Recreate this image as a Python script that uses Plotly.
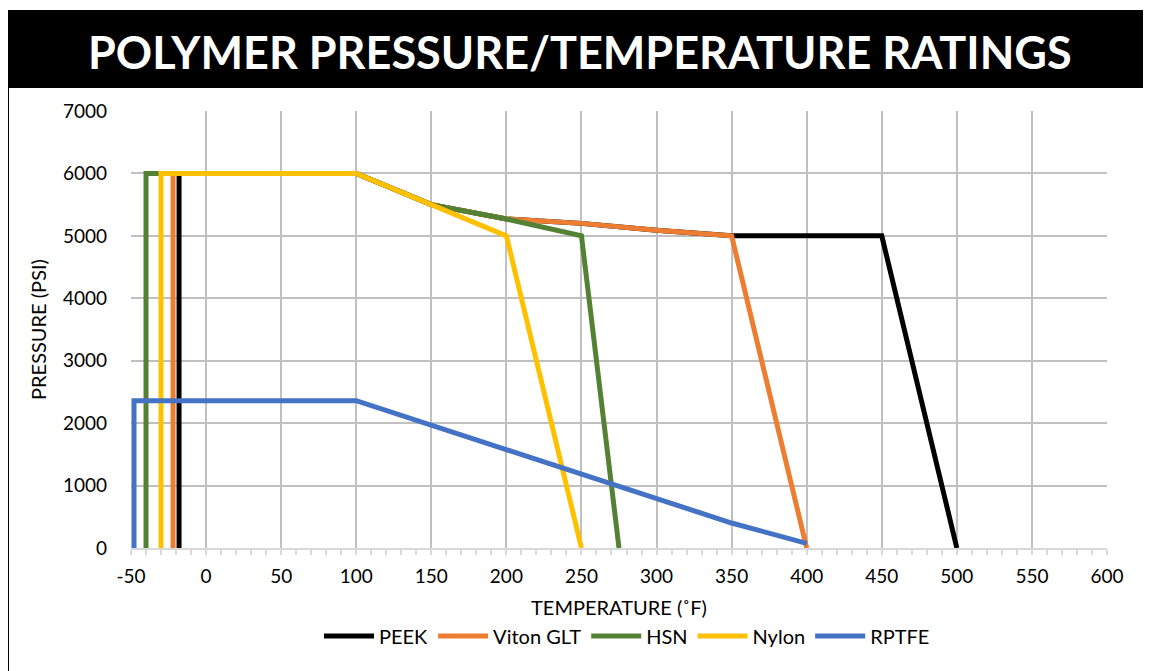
import plotly.graph_objects as go

# ---- data ----
series_names = ["PEEK", "Viton GLT", "HSN", "Nylon", "RPTFE"]
series_colors = ["#000000", "#ED7D31", "#548235", "#FFC000", "#4472C4"]

peek_x = [-18, -18, 100, 150, 200, 250, 300, 350, 450, 500]
peek_y = [0, 6000, 6000, 5500, 5270, 5200, 5090, 5000, 5000, 0]

viton_x = [-22, -22, 100, 150, 200, 250, 300, 350, 400]
viton_y = [0, 6000, 6000, 5500, 5270, 5200, 5090, 5000, 0]

hsn_x = [-40, -40, 100, 150, 200, 250, 275]
hsn_y = [0, 6000, 6000, 5500, 5270, 5000, 0]

nylon_x = [-30, -30, 100, 200, 250]
nylon_y = [0, 6000, 6000, 5000, 0]

rptfe_x = [-48, -48, 100, 350, 400]
rptfe_y = [0, 2360, 2360, 400, 75]

x_ticks = [-50, 0, 50, 100, 150, 200, 250, 300, 350, 400, 450, 500, 550, 600]
x_tick_labels = ["-50", "0", "50", "100", "150", "200", "250", "300", "350",
                 "400", "450", "500", "550", "600"]
y_ticks = [0, 1000, 2000, 3000, 4000, 5000, 6000, 7000]

title_text = "POLYMER PRESSURE/TEMPERATURE RATINGS"
x_title = "TEMPERATURE (˚F)"
y_title = "PRESSURE (PSI)"

# ---- figure (page coordinates are offset by the 8px body margin) ----
OFF = 8
W, H = 1151 - OFF, 671 - OFF
ML, MT = 131 - OFF, 111 - OFF
PW, PH = 976, 437
MR = W - ML - PW
MB = H - MT - PH


def px_x(p):
    return (p - OFF - ML) / PW


def px_y(p):
    return (MT + PH - (p - OFF)) / PH


xs = [peek_x, viton_x, hsn_x, nylon_x, rptfe_x]
ys = [peek_y, viton_y, hsn_y, nylon_y, rptfe_y]

fig = go.Figure()
for name, color, x, y in zip(series_names, series_colors, xs, ys):
    fig.add_trace(go.Scatter(x=x, y=y, mode="lines", name=name,
                             line=dict(color=color, width=5), cliponaxis=False))

font_main = "Lato, 'Open Sans', sans-serif"

fig.update_layout(
    width=W, height=H,
    margin=dict(l=ML, r=MR, t=MT, b=MB, pad=0),
    paper_bgcolor="white", plot_bgcolor="white",
    font=dict(family=font_main, size=18, color="#000000"),
    showlegend=True,
    legend=dict(orientation="h", x=px_x(627), xanchor="center",
                y=px_y(636), yanchor="middle", font=dict(size=20),
                itemwidth=50, traceorder="normal", bgcolor="rgba(0,0,0,0)"),
    xaxis=dict(range=[-50, 600], tickvals=x_ticks, ticktext=x_tick_labels,
               showgrid=True,
               gridcolor="#C0C0C0", gridwidth=2, zeroline=False,
               showline=True, linecolor="#D9D9D9", linewidth=2,
               ticks="outside", ticklen=5, tickcolor="#D9D9D9", tickwidth=2,
               minor=dict(dtick=10, ticks="outside", ticklen=5,
                          tickcolor="#D9D9D9", tickwidth=2, showgrid=False),
               ticklabelstandoff=5, tickfont=dict(size=19),
               title=dict(text=x_title, font=dict(size=20), standoff=15)),
    yaxis=dict(range=[0, 7000], tickvals=y_ticks, showgrid=True,
               gridcolor="#C0C0C0", gridwidth=2, zeroline=False,
               showline=False, ticks="", ticklabelstandoff=23,
               tickfont=dict(size=19),
               title=dict(text=y_title, font=dict(size=20), standoff=10)),
    shapes=[
        dict(type="rect", xref="paper", yref="paper",
             x0=px_x(8), x1=px_x(1151 + 5), y0=px_y(88), y1=px_y(10),
             fillcolor="#000000", line=dict(width=0), layer="above"),
        dict(type="line", xref="paper", yref="paper",
             x0=px_x(8), x1=px_x(8), y0=px_y(88), y1=px_y(671 + 5),
             line=dict(color="#000000", width=2)),
    ],
    annotations=[
        dict(text="<b>" + title_text + "</b>", xref="paper", yref="paper",
             x=px_x(580), y=px_y(52), xanchor="center", yanchor="middle",
             showarrow=False,
             font=dict(family=font_main, size=45, color="#FFFFFF")),
    ],
)

fig.write_html("out.html")
